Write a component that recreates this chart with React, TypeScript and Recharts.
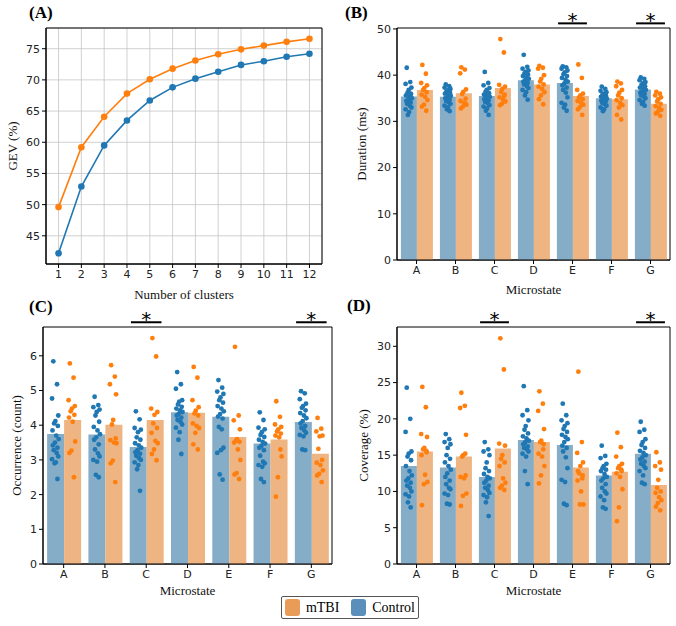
import {
  LineChart,
  Line,
  ComposedChart,
  Bar,
  Scatter,
  XAxis,
  YAxis,
  CartesianGrid,
  ReferenceArea,
  ReferenceLine,
} from "recharts"

// (A) global explained variance per number of clusters
const CLUSTERS = [1, 2, 3, 4, 5, 6, 7, 8, 9, 10, 11, 12]
const GEV_MTBI = [49.6, 59.2, 64.1, 67.8, 70.1, 71.8, 73.1, 74.1, 74.9, 75.5, 76.1, 76.6]
const GEV_CONTROL = [42.2, 52.9, 59.5, 63.5, 66.7, 68.8, 70.2, 71.3, 72.4, 73.0, 73.7, 74.2]

const MICROSTATES = ["A", "B", "C", "D", "E", "F", "G"]

// (B) duration (ms)
const DURATION_CONTROL_MEAN = [35.4, 35.3, 35.5, 38.9, 38.3, 35.0, 36.9]
const DURATION_MTBI_MEAN = [36.8, 36.1, 37.2, 38.0, 35.5, 34.8, 33.8]
const DURATION_CONTROL = [
  [41.6, 38.5, 38.1, 37.3, 36.8, 36.2, 35.9, 35.6, 35.3, 35.0, 34.7, 34.4, 34.1, 33.8, 33.4, 33.0, 32.6, 32.0, 31.4, 36.0],
  [38.0, 37.6, 37.3, 37.0, 36.7, 36.5, 36.2, 36.0, 35.7, 35.5, 35.2, 35.0, 34.7, 34.4, 34.1, 33.8, 33.4, 33.0, 32.6, 32.2],
  [40.7, 38.3, 37.8, 37.2, 36.8, 36.4, 36.1, 35.8, 35.6, 35.3, 35.1, 34.8, 34.5, 34.2, 33.9, 33.5, 33.2, 32.8, 32.3, 31.4],
  [44.4, 41.8, 41.4, 41.0, 40.7, 40.4, 40.1, 39.8, 39.5, 39.2, 38.9, 38.6, 38.3, 38.0, 37.6, 37.2, 36.8, 36.3, 35.6, 34.7],
  [41.9, 41.7, 41.4, 41.0, 40.6, 40.2, 39.8, 39.4, 39.0, 38.6, 38.2, 37.8, 37.3, 36.8, 36.2, 35.2, 34.0, 33.6, 33.0, 32.3],
  [37.5, 37.0, 36.6, 36.3, 36.0, 35.8, 35.5, 35.3, 35.1, 34.9, 34.7, 34.5, 34.3, 34.0, 33.7, 33.4, 33.0, 32.6, 32.2, 35.2],
  [39.5, 39.2, 38.9, 38.5, 38.2, 37.9, 37.6, 37.3, 37.0, 36.8, 36.5, 36.2, 35.9, 35.6, 35.3, 35.0, 34.6, 34.2, 33.8, 33.4],
]
const DURATION_MTBI = [
  [42.2, 40.3, 38.3, 37.8, 37.2, 36.8, 36.3, 35.8, 35.3, 34.6, 33.6, 33.2, 32.3],
  [41.7, 41.2, 40.4, 36.9, 36.4, 35.9, 34.9, 34.4, 34.0, 33.6, 33.2, 32.8, 33.9],
  [47.8, 44.9, 37.9, 37.5, 37.0, 36.4, 35.8, 35.2, 34.7, 34.3, 33.8, 33.5, 35.5],
  [42.0, 41.6, 41.4, 40.0, 39.2, 38.6, 38.0, 37.5, 37.0, 36.3, 35.6, 34.8, 33.7],
  [42.3, 39.4, 36.8, 36.0, 35.6, 35.2, 34.8, 34.4, 34.0, 33.6, 33.1, 32.6, 31.4],
  [38.6, 38.2, 37.6, 36.8, 36.2, 35.6, 35.0, 34.6, 34.0, 33.5, 33.0, 31.4, 30.4],
  [36.4, 36.0, 35.6, 35.2, 34.8, 34.3, 33.8, 33.3, 32.9, 32.5, 32.1, 31.7, 31.2],
]

// (C) occurrence (count)
const OCCURRENCE_CONTROL_MEAN = [3.75, 3.73, 3.37, 4.37, 4.24, 3.47, 4.09]
const OCCURRENCE_MTBI_MEAN = [4.15, 4.01, 4.15, 4.36, 3.66, 3.59, 3.18]
const OCCURRENCE_CONTROL = [
  [5.84, 5.18, 4.77, 4.28, 4.12, 4.05, 3.98, 3.85, 3.70, 3.60, 3.50, 3.42, 3.35, 3.28, 3.20, 3.10, 3.02, 2.93, 2.90, 2.45],
  [4.82, 4.58, 4.52, 4.45, 4.38, 4.28, 4.10, 3.95, 3.85, 3.74, 3.65, 3.58, 3.45, 3.30, 3.19, 3.10, 3.00, 2.95, 2.57, 2.50],
  [4.40, 4.17, 3.92, 3.87, 3.80, 3.65, 3.58, 3.48, 3.42, 3.35, 3.28, 3.22, 3.18, 3.12, 3.05, 3.00, 2.93, 2.85, 2.73, 2.11],
  [5.53, 5.18, 5.05, 4.72, 4.68, 4.60, 4.53, 4.48, 4.43, 4.38, 4.33, 4.28, 4.22, 4.15, 4.10, 4.02, 3.93, 3.80, 3.58, 3.17],
  [5.30, 5.08, 4.97, 4.90, 4.80, 4.72, 4.65, 4.55, 4.48, 4.40, 4.32, 4.25, 4.19, 3.95, 3.88, 3.35, 3.20, 3.28, 2.58, 2.43],
  [4.37, 4.15, 3.93, 3.88, 3.80, 3.72, 3.66, 3.58, 3.52, 3.47, 3.40, 3.35, 3.28, 3.12, 2.95, 2.90, 2.85, 2.80, 2.45, 2.36],
  [4.98, 4.92, 4.75, 4.62, 4.55, 4.50, 4.43, 4.35, 4.28, 4.20, 4.12, 4.05, 3.98, 3.92, 3.85, 3.78, 3.72, 3.68, 3.30, 3.28],
]
const OCCURRENCE_MTBI = [
  [5.78, 5.37, 4.72, 4.55, 4.48, 4.40, 4.30, 4.22, 4.10, 3.53, 3.27, 3.20, 2.50],
  [5.73, 5.40, 5.18, 4.89, 4.15, 4.02, 3.62, 3.57, 3.50, 3.48, 2.98, 2.90, 2.36],
  [6.51, 5.98, 4.48, 4.38, 4.30, 4.05, 3.92, 3.78, 3.55, 3.48, 3.30, 3.17, 2.99],
  [5.68, 5.37, 4.72, 4.52, 4.42, 4.34, 4.28, 4.05, 3.98, 3.92, 3.78, 3.45, 3.30],
  [6.26, 4.28, 4.14, 3.88, 3.60, 3.55, 3.52, 3.50, 3.30, 3.00, 2.62, 2.58, 2.45],
  [4.69, 4.24, 4.02, 3.95, 3.88, 3.82, 3.76, 3.70, 3.65, 3.10, 2.50, 1.94, 3.30],
  [4.21, 3.90, 3.82, 3.70, 3.68, 3.32, 3.00, 2.92, 2.85, 2.70, 2.60, 2.55, 2.36],
]

// (D) coverage (%)
const COVERAGE_CONTROL_MEAN = [13.5, 13.3, 12.0, 17.1, 16.4, 12.2, 15.2]
const COVERAGE_MTBI_MEAN = [15.5, 14.8, 15.9, 16.8, 13.3, 12.7, 10.9]
const COVERAGE_CONTROL = [
  [24.3, 20.0, 18.2, 15.5, 15.2, 14.8, 14.3, 13.5, 12.8, 12.2, 11.8, 11.5, 11.2, 10.8, 10.5, 10.0, 9.6, 9.3, 8.5, 7.8],
  [17.9, 17.2, 16.8, 16.5, 16.0, 15.0, 14.5, 14.0, 13.5, 13.0, 12.5, 12.0, 11.5, 11.0, 10.5, 10.3, 9.7, 9.5, 8.3, 8.2],
  [16.8, 15.8, 15.5, 15.0, 14.0, 13.2, 12.8, 12.4, 12.0, 11.8, 11.5, 11.2, 10.8, 10.5, 10.2, 9.8, 9.5, 9.2, 8.5, 6.6],
  [24.5, 21.2, 20.5, 19.8, 19.0, 18.5, 18.0, 17.6, 17.3, 17.0, 16.8, 16.5, 16.2, 16.0, 15.8, 15.5, 15.2, 14.8, 12.8, 11.0],
  [22.1, 20.5, 19.8, 19.4, 19.0, 18.6, 18.2, 17.8, 17.5, 17.2, 16.8, 16.3, 16.0, 15.5, 14.7, 13.2, 11.6, 11.3, 8.3, 8.1],
  [16.3, 14.9, 14.6, 13.8, 13.5, 13.2, 13.0, 12.8, 12.4, 12.0, 11.8, 11.5, 11.0, 10.5, 10.0, 9.7, 9.3, 8.8, 7.8, 7.6],
  [19.6, 18.5, 18.2, 17.2, 16.8, 16.4, 16.0, 15.6, 15.3, 15.0, 14.7, 14.4, 14.1, 13.8, 13.5, 13.2, 12.8, 12.2, 11.2, 11.0],
]
const COVERAGE_MTBI = [
  [24.4, 21.6, 17.9, 17.5, 16.0, 15.8, 15.4, 15.0, 12.3, 11.3, 11.0, 8.1, 15.6],
  [23.6, 21.8, 21.5, 17.8, 15.0, 14.8, 12.2, 12.0, 11.8, 9.7, 9.4, 8.0, 15.2],
  [31.1, 26.8, 16.6, 16.3, 15.0, 14.5, 14.0, 13.5, 11.8, 11.2, 10.8, 10.5, 10.2],
  [23.8, 22.1, 21.1, 18.6, 17.0, 16.8, 16.5, 15.2, 14.8, 13.5, 12.2, 11.1, 15.8],
  [26.5, 16.8, 15.3, 14.0, 13.5, 12.5, 12.2, 11.5, 10.0, 8.2, 8.2, 12.8, 11.8],
  [18.1, 16.1, 14.8, 13.8, 13.5, 13.2, 12.8, 12.5, 12.0, 10.3, 7.8, 5.9, 13.0],
  [15.4, 14.0, 13.5, 13.0, 11.6, 10.5, 10.0, 9.8, 9.2, 8.8, 8.4, 7.9, 7.4],
]

const BLUE = "#1f77b4"
const ORANGE = "#ff7f0e"
const BLUE_BAR = "#85adc8"
const ORANGE_BAR = "#eeb482"

const TICK = { fontSize: 11, fill: "#222", fontFamily: "DejaVu Sans" }
const TITLE = { fontSize: 13, fill: "#111", fontFamily: "Liberation Serif", textAnchor: "middle" as const }

// horizontal spread for the strip dots, in category units
const STRIP_JITTER = [-0.05, 0.04, -0.08, 0.07, 0.0, -0.03, 0.06, -0.07, 0.02, 0.08, -0.01, -0.06, 0.05, -0.04, 0.03, 0.07, -0.08, 0.01, -0.02, 0.05]

const toStrip = (groups: number[][], shift: number) =>
  groups.flatMap((vals, i) =>
    vals.map((v, j) => ({ x: i + shift + STRIP_JITTER[j % STRIP_JITTER.length], y: v }))
  )

const dot = (color: string) => (p: any) => <circle cx={p.cx} cy={p.cy} r={2.4} fill={color} />

const GevChart = () => {
  const data = CLUSTERS.map((k, i) => ({ k, mtbi: GEV_MTBI[i], control: GEV_CONTROL[i] }))
  return (
    <LineChart width={338} height={312} data={data} margin={{ top: 28, right: 16, bottom: 12, left: 0 }}>
      <CartesianGrid stroke="#c4c4c4" strokeWidth={0.8} />
      <XAxis
        dataKey="k"
        type="number"
        domain={[0.45, 12.55]}
        ticks={CLUSTERS}
        interval={0}
        height={36}
        tick={TICK}
        tickSize={4}
        tickMargin={2}
        stroke="#000"
        label={{ value: "Number of clusters", position: "insideBottom", offset: 1, style: TITLE }}
      />
      <YAxis
        type="number"
        domain={[40.48, 78.32]}
        ticks={[45, 50, 55, 60, 65, 70, 75]}
        width={46}
        tick={TICK}
        tickSize={4}
        tickMargin={2}
        stroke="#000"
        label={{ value: "GEV (%)", angle: -90, position: "insideLeft", offset: 12, style: TITLE }}
      />
      <ReferenceArea x1={0.45} x2={12.55} y1={40.48} y2={78.32} fill="none" stroke="#000" strokeWidth={1} ifOverflow="visible" />
      <Line dataKey="control" stroke={BLUE} strokeWidth={1.6} dot={{ r: 3.3, fill: BLUE, stroke: BLUE, strokeWidth: 0 }} isAnimationActive={false} />
      <Line dataKey="mtbi" stroke={ORANGE} strokeWidth={1.6} dot={{ r: 3.3, fill: ORANGE, stroke: ORANGE, strokeWidth: 0 }} isAnimationActive={false} />
    </LineChart>
  )
}

type StripProps = {
  controlMean: number[]
  mtbiMean: number[]
  control: number[][]
  mtbi: number[][]
  top: number
  ticks: number[]
  yLabel: string
  yLabelOffset: number
  stars: number[]
  height: number
  marginTop: number
  xHeight: number
  titleOffset: number
}

const StripChart = (p: StripProps) => {
  const rows = MICROSTATES.map((state, i) => ({ state, control: p.controlMean[i], mtbi: p.mtbiMean[i] }))
  const controlPts = toStrip(p.control, -0.2)
  const mtbiPts = toStrip(p.mtbi, 0.2)
  const sigY = p.top * 1.02
  return (
    <ComposedChart
      width={338}
      height={p.height}
      data={rows}
      margin={{ top: p.marginTop, right: 6, bottom: 0, left: 0 }}
      barCategoryGap="10%"
      barGap={0}
    >
      <XAxis
        xAxisId="cat"
        dataKey="state"
        height={p.xHeight}
        tick={TICK}
        tickSize={4}
        tickMargin={2}
        stroke="#000"
        label={{ value: "Microstate", position: "insideBottom", offset: p.titleOffset, style: TITLE }}
      />
      <XAxis xAxisId="jit" dataKey="x" type="number" domain={[-0.5, 6.5]} allowDataOverflow hide />
      <YAxis
        type="number"
        domain={[0, p.top]}
        ticks={p.ticks}
        allowDataOverflow
        width={p.yLabelOffset > 20 ? 59 : 43}
        tick={TICK}
        tickSize={4}
        tickMargin={2}
        stroke="#000"
        label={{ value: p.yLabel, angle: -90, position: "insideLeft", offset: p.yLabelOffset, style: TITLE }}
      />
      <Bar xAxisId="cat" dataKey="control" fill={BLUE_BAR} isAnimationActive={false} />
      <Bar xAxisId="cat" dataKey="mtbi" fill={ORANGE_BAR} isAnimationActive={false} />
      <Scatter xAxisId="jit" data={controlPts} dataKey="y" shape={dot(BLUE)} isAnimationActive={false} />
      <Scatter xAxisId="jit" data={mtbiPts} dataKey="y" shape={dot(ORANGE)} isAnimationActive={false} />
      <ReferenceArea xAxisId="jit" x1={-0.5} x2={6.5} y1={0} y2={p.top} fill="none" stroke="#000" strokeWidth={1} ifOverflow="visible" />
      {p.stars.map((i) => (
        <ReferenceLine
          key={i}
          xAxisId="jit"
          segment={[{ x: i - 0.37, y: sigY }, { x: i + 0.37, y: sigY }]}
          stroke="#000"
          strokeWidth={2}
          ifOverflow="visible"
          label={{ value: "*", position: "top", offset: -4, fontSize: 20, fill: "#000", fontFamily: "DejaVu Sans" }}
        />
      ))}
    </ComposedChart>
  )
}

const panelTag = (left: number, top: number): React.CSSProperties => ({
  position: "absolute",
  left,
  top,
  fontFamily: "Liberation Serif",
  fontWeight: "bold",
  fontSize: 17,
  lineHeight: "20px",
})

const swatch = (color: string): React.CSSProperties => ({
  width: 22,
  height: 17,
  borderRadius: 3,
  background: color,
  display: "inline-block",
})

export default function App() {
  return (
    <div style={{ position: "absolute", left: 0, top: 0, width: 676, height: 626, background: "#fff", overflow: "hidden" }}>
      <div style={{ position: "absolute", left: 338, top: 0 }}>
        <StripChart
          controlMean={DURATION_CONTROL_MEAN}
          mtbiMean={DURATION_MTBI_MEAN}
          control={DURATION_CONTROL}
          mtbi={DURATION_MTBI}
          top={50.2}
          ticks={[0, 10, 20, 30, 40, 50]}
          yLabel="Duration (ms)"
          yLabelOffset={23}
          stars={[4, 6]}
          height={300}
          marginTop={28}
          xHeight={40}
          titleOffset={6}
        />
      </div>
      <div style={{ position: "absolute", left: 0, top: 300 }}>
        <StripChart
          controlMean={OCCURRENCE_CONTROL_MEAN}
          mtbiMean={OCCURRENCE_MTBI_MEAN}
          control={OCCURRENCE_CONTROL}
          mtbi={OCCURRENCE_MTBI}
          top={6.83}
          ticks={[0, 1, 2, 3, 4, 5, 6]}
          yLabel="Occurrence (count)"
          yLabelOffset={16}
          stars={[2, 6]}
          height={300}
          marginTop={27}
          xHeight={36}
          titleOffset={5}
        />
      </div>
      <div style={{ position: "absolute", left: 338, top: 300 }}>
        <StripChart
          controlMean={COVERAGE_CONTROL_MEAN}
          mtbiMean={COVERAGE_MTBI_MEAN}
          control={COVERAGE_CONTROL}
          mtbi={COVERAGE_MTBI}
          top={32.66}
          ticks={[0, 5, 10, 15, 20, 25, 30]}
          yLabel="Coverage (%)"
          yLabelOffset={25}
          stars={[2, 6]}
          height={300}
          marginTop={27}
          xHeight={36}
          titleOffset={5}
        />
      </div>
      <div style={{ position: "absolute", left: 0, top: 0 }}>
        <GevChart />
      </div>
      <div style={panelTag(29, 3)}>(A)</div>
      <div style={panelTag(345, 3)}>(B)</div>
      <div style={panelTag(29, 297)}>(C)</div>
      <div style={panelTag(347, 296)}>(D)</div>
      <div
        style={{
          position: "absolute",
          left: 281,
          top: 596,
          width: 138,
          height: 23,
          border: "1px solid #555",
          borderRadius: 2,
          boxSizing: "border-box",
          display: "flex",
          alignItems: "center",
          gap: 6,
          padding: "0 3px",
          fontFamily: "Liberation Serif",
          fontSize: 14,
        }}
      >
        <span style={swatch("#e99b58")} />
        <span style={{ marginRight: 6 }}>mTBI</span>
        <span style={swatch("#5b8fbb")} />
        <span>Control</span>
      </div>
    </div>
  )
}
